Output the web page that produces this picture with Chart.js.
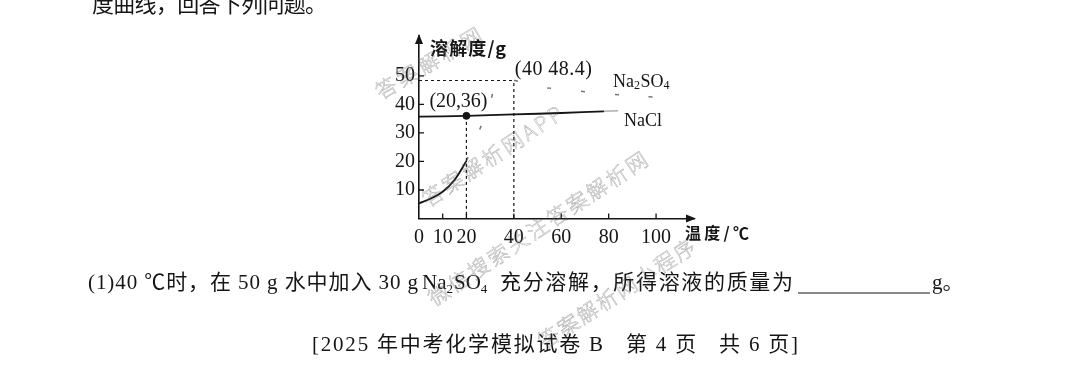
<!DOCTYPE html>
<html>
<head>
<meta charset="utf-8">
<script src="https://cdn.jsdelivr.net/npm/chart.js@4.4.1/dist/chart.umd.min.js"></script>
<style>
  html, body { margin: 0; padding: 0; background: #fff; }
  canvas { display: block; }
</style>
</head>
<body>
<canvas id="ChartSolubility" width="1080" height="375"></canvas>
<script>
// tick labels
const tempTicks = [0, 10, 20, 40, 60, 80, 100];
const solTicks = [10, 20, 30, 40, 50];

// NaCl solubility (g)
const naclTemp = [0, 20, 40, 60, 78];
const naclSol = [35.7, 36.0, 36.5, 37.0, 37.6];
const naclFadeTemp = [78, 84];
const naclFadeSol = [37.6, 37.8];

// Na2SO4: visible part and faded part of the scan
const na2so4Temp = [0, 5, 10, 15, 20];
const na2so4Sol = [5.3, 7.0, 9.4, 13.5, 20.2];
const na2so4FadeTemp = [20, 25, 30, 33, 40, 50, 60, 80, 100];
const na2so4FadeSol = [20.2, 30, 40.5, 47.8, 48.4, 46.3, 45.3, 43.7, 42.5];

// guide lines
const guide40Temp = [0, 39, 40, 40];
const guide40Sol = [48.4, 48.4, 47.6, 0];
const guide20Temp = [20, 20];
const guide20Sol = [36, 0];
const markTemp = [20];
const markSol = [36];

const pts = (xs, ys) => xs.map((x, i) => ({ x: x, y: ys[i] }));

const serif = '"Liberation Serif", "Noto Sans CJK SC"';
const cjk = '"Noto Sans CJK SC", "Liberation Serif"';

function spaced(ctx, text, x, y, width) {
    ctx.letterSpacing = '0px';
    const w = ctx.measureText(text).width;
    const n = [...text].length;
    const ls = n > 1 ? (width - w) / (n - 1) : 0;
    ctx.letterSpacing = ls + 'px';
    ctx.fillText(text, x, y);
    ctx.letterSpacing = '0px';
}

function watermark(ctx, text, x0, y0, x1, y1) {
    const ang = Math.atan2(y1 - y0, x1 - x0);
    const len = Math.hypot(x1 - x0, y1 - y0);
    ctx.save();
    ctx.translate(x0, y0);
    ctx.rotate(ang);
    ctx.font = '300 21px ' + cjk;
    ctx.textBaseline = 'middle';
    ctx.textAlign = 'left';
    const w = ctx.measureText(text).width;
    const n = [...text].length;
    ctx.letterSpacing = ((len - w) / (n - 1)) + 'px';
    ctx.strokeStyle = 'rgba(90, 90, 90, 0.5)';
    ctx.lineWidth = 0.5;
    ctx.strokeText(text, 0, 0);
    ctx.letterSpacing = '0px';
    ctx.restore();
}

const pagePlugin = {
    id: 'page',
    afterDraw(chart) {
        const ctx = chart.ctx;
        const xs = chart.scales.x;
        const ys = chart.scales.y;
        const ca = chart.chartArea;
        ctx.save();
        ctx.fillStyle = '#151515';
        ctx.strokeStyle = '#151515';

        // small tick marks inside the axes
        ctx.lineWidth = 1.3;
        ctx.beginPath();
        tempTicks.slice(1).forEach(v => {
            const px = xs.getPixelForValue(v);
            ctx.moveTo(px, ca.bottom);
            ctx.lineTo(px, ca.bottom - 5);
        });
        solTicks.forEach(v => {
            const py = ys.getPixelForValue(v);
            ctx.moveTo(ca.left, py);
            ctx.lineTo(ca.left + 5, py);
        });
        ctx.stroke();

        // arrow heads
        ctx.beginPath();
        ctx.moveTo(ca.right + 2, ca.bottom);
        ctx.lineTo(ca.right - 8, ca.bottom - 4);
        ctx.lineTo(ca.right - 8, ca.bottom + 4);
        ctx.closePath();
        ctx.fill();
        ctx.beginPath();
        ctx.moveTo(ca.left, ca.top - 2);
        ctx.lineTo(ca.left - 4, ca.top + 8);
        ctx.lineTo(ca.left + 4, ca.top + 8);
        ctx.closePath();
        ctx.fill();

        // axis titles
        ctx.textBaseline = 'middle';
        ctx.textAlign = 'left';
        ctx.font = 'bold 18px ' + cjk;
        spaced(ctx, '溶解度/g', ca.left + 11, 48, 76);
        ctx.font = 'bold 16px ' + cjk;
        spaced(ctx, '温度/℃', ca.right - 9, 233, 64);

        // point labels
        ctx.font = '20px ' + serif;
        const p20x = xs.getPixelForValue(20);
        const p36y = ys.getPixelForValue(36);
        spaced(ctx, '(20,36)', p20x - 37, p36y - 14, 58);
        const p40x = xs.getPixelForValue(40);
        const p48y = ys.getPixelForValue(48.4);
        spaced(ctx, '(40 48.4)', p40x + 1, p48y - 11, 77);

        // curve names
        ctx.font = '18px ' + serif;
        let lx = 613, ly = 82;
        ctx.fillText('Na', lx, ly);
        lx += ctx.measureText('Na').width;
        ctx.font = '12px ' + serif;
        ctx.fillText('2', lx, ly + 4);
        lx += ctx.measureText('2').width + 0.5;
        ctx.font = '18px ' + serif;
        ctx.fillText('SO', lx, ly);
        lx += ctx.measureText('SO').width;
        ctx.font = '12px ' + serif;
        ctx.fillText('4', lx, ly + 4);
        ctx.font = '18px ' + serif;
        ctx.fillText('NaCl', 624, 121);

        // page text
        ctx.font = '22px ' + cjk;
        spaced(ctx, '度曲线，回答下列问题。', 92, 4, 235);

        ctx.font = '21px ' + serif;
        spaced(ctx, '(1)40 ℃时，在 50 g 水中加入 30 g', 88, 283, 330);
        let qx = 422;
        ctx.fillText('Na', qx, 283);
        qx += ctx.measureText('Na').width;
        ctx.font = '13px ' + serif;
        ctx.fillText('2', qx, 290);
        qx += ctx.measureText('2').width + 1;
        ctx.font = '21px ' + serif;
        ctx.fillText('SO', qx, 283);
        qx += ctx.measureText('SO').width;
        ctx.font = '13px ' + serif;
        ctx.fillText('4', qx, 290);
        ctx.font = '21px ' + serif;
        spaced(ctx, '充分溶解，所得溶液的质量为', 500, 283, 293);
        ctx.lineWidth = 1.2;
        ctx.beginPath();
        ctx.moveTo(798, 293);
        ctx.lineTo(930, 293);
        ctx.stroke();
        ctx.fillText('g。', 932, 283);

        ctx.font = '21px ' + serif;
        spaced(ctx, '[2025 年中考化学模拟试卷 B   第 4 页   共 6 页]', 312, 345, 486);

        ctx.restore();

        // watermarks
        watermark(ctx, '答案解析网', 377, 93, 480, 33);
        watermark(ctx, '答案解析网APP', 424, 201, 560, 111);
        watermark(ctx, '微信搜索关注答案解析网', 430, 300, 645, 157);
        watermark(ctx, '答案解析网小程序', 540, 343, 693, 244);
    }
};

const chartEl = document.getElementById('ChartSolubility');
new Chart(chartEl, {
    type: 'scatter',
    data: {
        datasets: [
            {
                label: 'Na2SO4 faded',
                data: pts(na2so4FadeTemp, na2so4FadeSol),
                showLine: true,
                borderColor: 'rgba(60, 60, 60, 0.7)',
                borderWidth: 1.5,
                borderDash: [4, 30],
                tension: 0.35,
                pointRadius: 0
            },
            {
                label: 'NaCl faded',
                data: pts(naclFadeTemp, naclFadeSol),
                showLine: true,
                borderColor: 'rgba(120, 120, 120, 0.6)',
                borderWidth: 1.6,
                pointRadius: 0
            },
            {
                label: 'guide 40',
                data: pts(guide40Temp, guide40Sol),
                showLine: true,
                borderColor: '#151515',
                borderWidth: 1.2,
                borderDash: [3, 3],
                pointRadius: 0
            },
            {
                label: 'guide 20',
                data: pts(guide20Temp, guide20Sol),
                showLine: true,
                borderColor: '#151515',
                borderWidth: 1.2,
                borderDash: [3, 3],
                pointRadius: 0
            },
            {
                label: 'NaCl',
                data: pts(naclTemp, naclSol),
                showLine: true,
                borderColor: '#151515',
                borderWidth: 1.8,
                tension: 0.3,
                pointRadius: 0
            },
            {
                label: 'Na2SO4',
                data: pts(na2so4Temp, na2so4Sol),
                showLine: true,
                borderColor: '#151515',
                borderWidth: 1.8,
                tension: 0.4,
                pointRadius: 0
            },
            {
                label: 'mark',
                data: pts(markTemp, markSol),
                showLine: false,
                backgroundColor: '#151515',
                borderColor: '#151515',
                pointRadius: 3.5
            }
        ]
    },
    options: {
        responsive: false,
        animation: false,
        layout: {
            padding: { left: 379, right: 386, top: 36, bottom: 126.5 }
        },
        plugins: {
            legend: { display: false },
            tooltip: { enabled: false }
        },
        scales: {
            x: {
                type: 'linear',
                min: 0,
                max: 116,
                afterBuildTicks: (scale) => {
                    scale.ticks = tempTicks.map(v => ({ value: v }));
                },
                afterFit: (scale) => { scale.height = 30; },
                grid: { display: false, drawTicks: false },
                border: { display: true, color: '#151515', width: 1.6 },
                ticks: {
                    autoSkip: false,
                    maxRotation: 0,
                    padding: 7,
                    color: '#151515',
                    font: { family: 'Liberation Serif', size: 20 }
                }
            },
            y: {
                type: 'linear',
                min: 0,
                max: 64,
                afterBuildTicks: (scale) => {
                    scale.ticks = solTicks.map(v => ({ value: v }));
                },
                afterFit: (scale) => { scale.width = 40; },
                grid: { display: false, drawTicks: false },
                border: { display: true, color: '#151515', width: 1.6 },
                ticks: {
                    autoSkip: false,
                    padding: 4,
                    color: '#151515',
                    font: { family: 'Liberation Serif', size: 20 }
                }
            }
        }
    },
    plugins: [pagePlugin]
});
</script>
</body>
</html>
